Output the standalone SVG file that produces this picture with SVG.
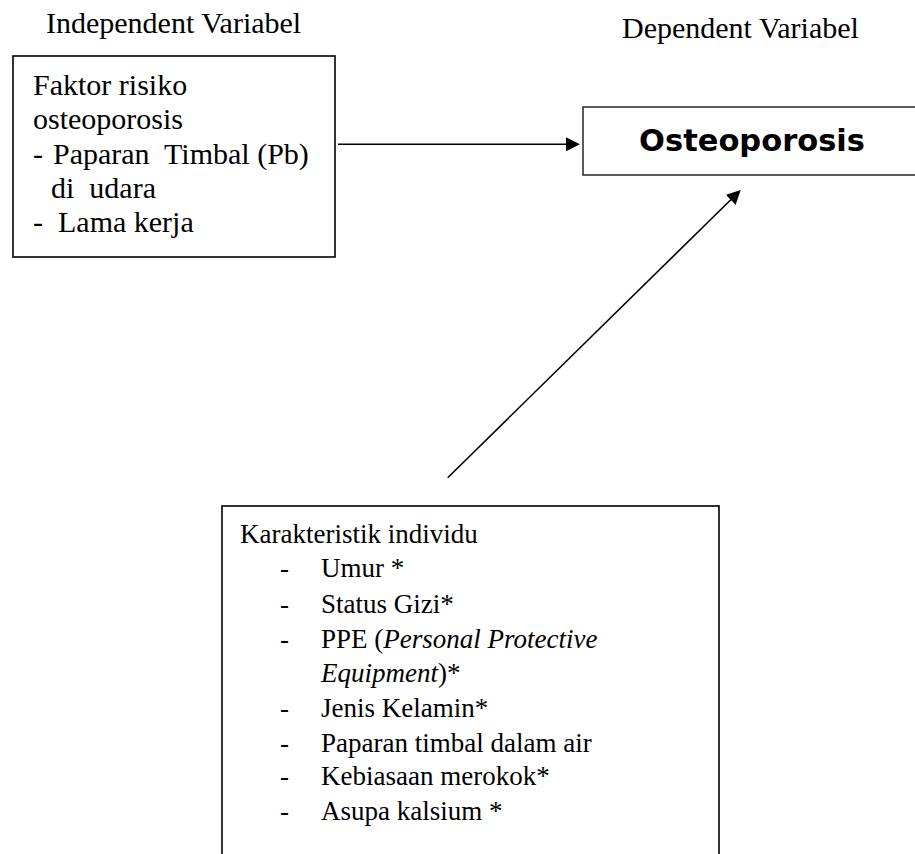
<svg xmlns="http://www.w3.org/2000/svg" width="915" height="854" viewBox="0 0 915 854">
<style>
  .t { font-family: "Liberation Serif", "Times New Roman", serif; font-size: 30px; fill: #000; white-space: pre; }
  .s { font-size: 27px; }
  .i { font-style: italic; }
  .b { font-family: "DejaVu Sans", Verdana, sans-serif; font-weight: bold; font-size: 30.5px; fill: #000; }
  .box { fill: #fff; stroke: #000; stroke-width: 1.6; }
  .box2 { fill: #fff; stroke: #333; stroke-width: 1.6; }
  .con { stroke: #000; stroke-width: 1.6; fill: none; }
</style>
<defs>
  <marker id="arrow" markerUnits="userSpaceOnUse" markerWidth="14" markerHeight="14" viewBox="0 0 14 14" refX="4" refY="7" orient="auto">
    <path d="M0,0 L14,7 L0,14 z" fill="#000"/>
  </marker>
</defs>
<rect width="915" height="854" fill="#fff"/>

<text class="t" x="46" y="33">Independent Variabel</text>
<text class="t" x="622" y="38">Dependent Variabel</text>

<g id="faktor">
  <rect class="box" x="13" y="56" width="322" height="201"/>
  <text class="t" x="33" y="95">Faktor risiko</text>
  <text class="t" x="33" y="129">osteoporosis</text>
  <text class="t" x="33" y="164">-</text>
  <text class="t" x="53" y="164">Paparan  Timbal (Pb)</text>
  <text class="t" x="51" y="198">di  udara</text>
  <text class="t" x="33" y="232">-</text>
  <text class="t" x="58" y="232">Lama kerja</text>
</g>

<g id="osteoporosis">
  <rect class="box2" x="583" y="107" width="340" height="68"/>
  <text class="b" x="752" y="151" text-anchor="middle">Osteoporosis</text>
</g>

<g id="karakteristik">
  <rect class="box" x="222" y="506" width="497" height="360"/>
  <text class="t s" x="240" y="543">Karakteristik individu</text>
  <text class="t s" x="280" y="577">-</text><text class="t s" x="321" y="577">Umur *</text>
  <text class="t s" x="280" y="613">-</text><text class="t s" x="321" y="613">Status Gizi*</text>
  <text class="t s" x="280" y="648">-</text><text class="t s" x="321" y="648">PPE (<tspan class="i">Personal Protective</tspan></text>
  <text class="t s" x="321" y="682"><tspan class="i">Equipment</tspan>)*</text>
  <text class="t s" x="280" y="717">-</text><text class="t s" x="321" y="717">Jenis Kelamin*</text>
  <text class="t s" x="280" y="752">-</text><text class="t s" x="321" y="752">Paparan timbal dalam air</text>
  <text class="t s" x="280" y="785">-</text><text class="t s" x="321" y="785">Kebiasaan merokok*</text>
  <text class="t s" x="280" y="820">-</text><text class="t s" x="321" y="820">Asupa kalsium *</text>
</g>

<g id="connectors">
  <line class="con" x1="338" y1="144.3" x2="570" y2="144.3" marker-end="url(#arrow)"/>
  <line class="con" x1="447.7" y1="477.7" x2="733.6" y2="197" marker-end="url(#arrow)"/>
</g>
</svg>
